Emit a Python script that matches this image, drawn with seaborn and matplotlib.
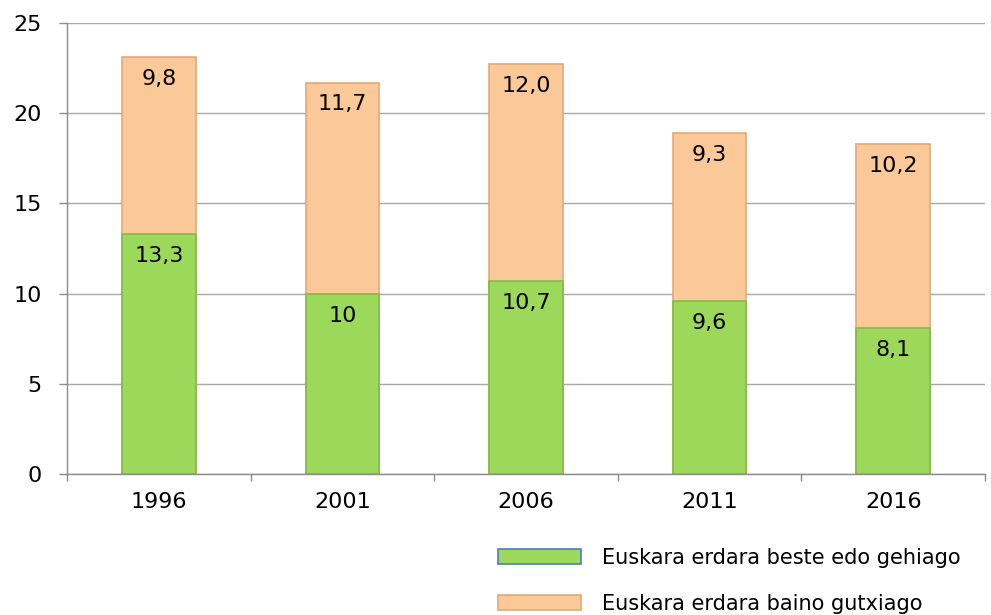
import numpy as np
import pandas as pd
import matplotlib
matplotlib.use('Agg')
import matplotlib.pyplot as plt
import matplotlib.patches as mpatches
import seaborn as sns

sns.set_style('white')
plt.rcParams['font.family'] = ['DejaVu Sans']
plt.rcParams['text.color'] = 'black'
plt.rcParams['xtick.color'] = 'black'
plt.rcParams['ytick.color'] = 'black'

# data
years = ['1996', '2001', '2006', '2011', '2016']
more = [13.3, 10.0, 10.7, 9.6, 8.1]       # Euskara erdara beste edo gehiago
less = [9.8, 11.7, 12.0, 9.3, 10.2]       # Euskara erdara baino gutxiago
more_labels = ['13,3', '10', '10,7', '9,6', '8,1']
less_labels = ['9,8', '11,7', '12,0', '9,3', '10,2']
series_names = ['Euskara erdara beste edo gehiago', 'Euskara erdara baino gutxiago']

green = '#9CD95A'
green_edge = '#84BA48'
orange = '#FBC997'
orange_edge = '#E2AA78'
grid_col = '#A8A8A8'
axis_col = '#8C8C8C'

df = pd.DataFrame({'year': years, 'more': more, 'less': less})
df['total'] = df['more'] + df['less']

fig = plt.figure(figsize=(9.91, 6.15), dpi=100)
ax = fig.add_axes([67 / 991, 1 - 474 / 615, 918 / 991, 451 / 615])

# stacked bars: the full total in orange, green drawn over the lower part
sns.barplot(data=df, x='year', y='total', color=orange, saturation=1,
            width=0.4, edgecolor=orange_edge, linewidth=1.2, ax=ax)
sns.barplot(data=df, x='year', y='more', color=green, saturation=1,
            width=0.4, edgecolor=green_edge, linewidth=1.2, ax=ax)

top_bars = ax.containers[0]
bottom_bars = ax.containers[1]
ax.bar_label(top_bars, labels=less_labels, padding=-23, fontsize=16, color='black')
ax.bar_label(bottom_bars, labels=more_labels, padding=-23, fontsize=16, color='black')

ax.set_xlim(-0.5, 4.5)
ax.set_ylim(0, 25)
ax.set_yticks(np.arange(0, 26, 5))
ax.yaxis.grid(True, color=grid_col, linewidth=1)
ax.set_axisbelow(True)
ax.set_xlabel('')
ax.set_ylabel('')

for s in ['top', 'right']:
    ax.spines[s].set_visible(False)
for s in ['left', 'bottom']:
    ax.spines[s].set_color(axis_col)
    ax.spines[s].set_linewidth(1)

ax.set_xticks(np.arange(-0.5, 5, 1), minor=True)
ax.tick_params(axis='x', which='major', bottom=True, length=0, pad=13, labelsize=16)
ax.tick_params(axis='x', which='minor', bottom=True, length=5, width=1,
               color=axis_col, direction='out')
ax.tick_params(axis='y', left=True, length=6, width=1, color=axis_col,
               direction='out', pad=12, labelsize=16)

handles = [
    mpatches.Patch(facecolor=green, edgecolor='#4A7EBB', linewidth=1.2),
    mpatches.Patch(facecolor=orange, edgecolor=orange_edge, linewidth=1.2),
]
fig.legend(handles, series_names, loc='upper left',
           bbox_to_anchor=(498 / 991, 1 - 548 / 615), frameon=False,
           fontsize=15, handlelength=4.0, handleheight=0.7,
           handletextpad=1.0, labelspacing=1.25, borderpad=0, borderaxespad=0)

fig.savefig('out.png', dpi=100)
